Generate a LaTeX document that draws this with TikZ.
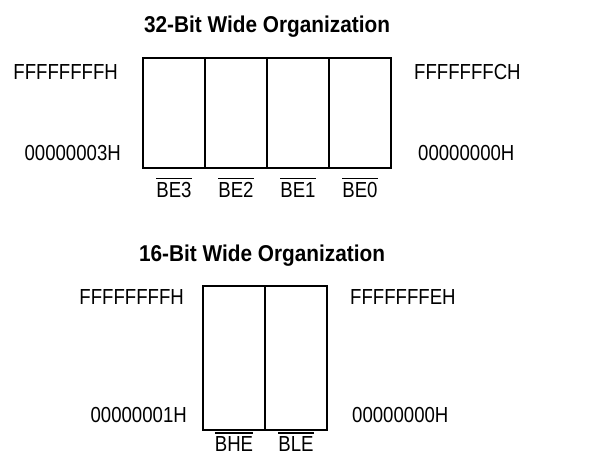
\documentclass[tikz,border=0pt]{standalone}
\usepackage{fontspec}
\usepackage{graphicx}
\setmainfont{Liberation Sans}
\usetikzlibrary{positioning}

% tall, narrow lettering and active-low signal names
\newcommand{\tallt}[1]{\scalebox{1}[1.17]{#1}}
\newcommand{\sig}[1]{\setbox0\hbox{\tallt{#1\vphantom{0}}}\rlap{\raisebox{\dimexpr\ht0+2.5pt\relax}{\rule{\wd0}{1.3pt}}}\box0}

\begin{document}
\begin{tikzpicture}[
    x=1pt, y=-1pt,
    node distance=0pt,
    cell/.style={
        rectangle,
        draw=black,
        line width=2.6pt,
        outer sep=0pt,
        minimum width=62pt
    },
    title/.style={
        font=\fontsize{20.8}{24}\selectfont\bfseries,
        inner sep=0pt
    },
    addr/.style={
        font=\fontsize{18.6}{22}\selectfont,
        inner sep=0pt
    },
    lane/.style={
        font=\fontsize{18.6}{22}\selectfont,
        inner sep=0pt
    }
]
\useasboundingbox (0,0) rectangle (616,457);

% 32-bit organization
\node [title] (title32) at (267,27) {\scalebox{1}[1.1]{32-Bit Wide Organization}};
\node [cell, minimum height=110pt, anchor=north west] (be3) at (143,58) {};
\node [cell, minimum height=110pt, right=of be3] (be2) {};
\node [cell, minimum height=110pt, right=of be2] (be1) {};
\node [cell, minimum height=110pt, right=of be1] (be0) {};

\node [addr, anchor=east] (hi32) at (118,72) {\tallt{FFFFFFFFH}};
\node [addr, anchor=east] (lo32) at (121,153) {\tallt{00000003H}};
\node [addr, anchor=west] (hiw32) at (414,72) {\tallt{FFFFFFFCH}};
\node [addr, anchor=west] (low32) at (418,153) {\tallt{00000000H}};

\node [lane, below=10pt of be3] (lbe3) {\sig{BE3}};
\node [lane, below=10pt of be2] (lbe2) {\sig{BE2}};
\node [lane, below=10pt of be1] (lbe1) {\sig{BE1}};
\node [lane, below=10pt of be0] (lbe0) {\sig{BE0}};

% 16-bit organization
\node [title] (title16) at (262,256) {\scalebox{1}[1.1]{16-Bit Wide Organization}};
\node [cell, minimum height=144pt, anchor=north west] (bhe) at (203,286) {};
\node [cell, minimum height=144pt, right=of bhe] (ble) {};

\node [addr, anchor=east] (hi16) at (184,297) {\tallt{FFFFFFFFH}};
\node [addr, anchor=east] (lo16) at (187,415) {\tallt{00000001H}};
\node [addr, anchor=west] (hiw16) at (350,297) {\tallt{FFFFFFFEH}};
\node [addr, anchor=west] (low16) at (352,415) {\tallt{00000000H}};

\node [lane, below=2pt of bhe] (lbhe) {\sig{BHE}};
\node [lane, below=2pt of ble] (lble) {\sig{BLE}};

\end{tikzpicture}
\end{document}
